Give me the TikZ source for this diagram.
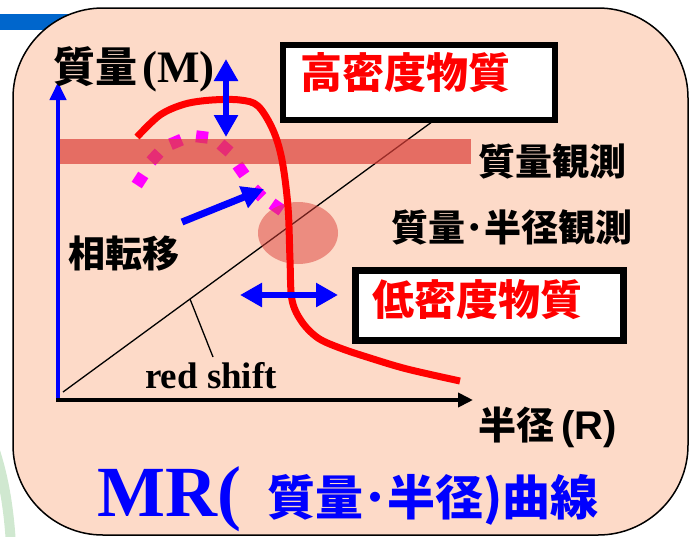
\documentclass[tikz,border=0pt]{standalone}
\usepackage{fontspec}
\setmainfont{Liberation Serif}
\newfontfamily\jp{Noto Sans CJK JP}
\newfontfamily\lsans{Liberation Sans}
\usetikzlibrary{arrows.meta}
\definecolor{peach}{RGB}{253,218,200}
\definecolor{bandred}{RGB}{220,64,57}
\definecolor{barblue}{RGB}{0,102,204}
\definecolor{paleg}{RGB}{208,232,208}
\definecolor{mag}{RGB}{255,0,255}
\newcommand\fsz[1]{\fontsize{#1}{#1}\selectfont}
\begin{document}
\begin{tikzpicture}[x=1pt,y=-1pt,
  jp/.style={inner sep=0pt, font=\jp\bfseries\fsz{#1}},
  tnr/.style={inner sep=0pt, font=\rmfamily\bfseries\fsz{#1}},
  boxA/.style={draw=black, fill=white, inner sep=0pt},
  bigblue/.style={draw=blue, line width=6pt, {Triangle[width=23pt,length=22pt]}-{Triangle[width=23pt,length=22pt]}},
  dot/.style={fill=mag}
]
\useasboundingbox (0,0) rectangle (690,536);
% decorations behind the panel
\fill[barblue] (0,14) rectangle (120,30);
\draw[paleg, line width=10pt] (-6,448) .. controls (4,478) and (9,510) .. (11,545);
% panel
\draw[fill=peach, line width=1.5pt, rounded corners=90pt] (13,8) rectangle (688,535);
% magenta dotted arc (phase transition)
\foreach \x/\y/\a in {140/180/57, 155/157/47, 176/142/23, 202/137/-7, 225/148/-41, 241/170/-55, 258/193/-45, 277/207/-35}{
  \fill[mag, rotate around={\a:(\x,\y)}] (\x-6,\y-6) rectangle (\x+6,\y+6);
}
% diagonal line and leader
\coordinate (d0) at (63,392);
\coordinate (d1) at (440,116);
\draw[line width=1.3pt] (d0) -- (d1);
\coordinate (l0) at (190,299);
\coordinate (l1) at (213,357);
\draw[line width=1.3pt] (l0) -- (l1);
% mass observation band
\fill[bandred, opacity=0.7] (58,139) rectangle (471,164);
% mass-radius observation ellipse
\fill[bandred, opacity=0.5] (298,233) ellipse [x radius=40, y radius=31];
% MR curve
\draw[red, line width=7pt] plot[smooth, tension=0.55] coordinates {(137,137) (160,115) (185,104) (212,100) (240,100) (258,106) (273,130) (282,160) (288,207) (290,260) (292,300) (302,322) (318,338) (340,348) (370,358) (407,369) (460,381)};
% axes
\draw[blue, line width=4pt, -{Triangle[width=16pt,length=18pt]}] (58,402) -- (58,82);
\draw[black, line width=4pt, -{Triangle[width=14pt,length=15pt]}] (56,400) -- (473,400);
% blue arrows
\coordinate (va) at (226,59);
\coordinate (vb) at (226,137);
\draw[bigblue] (va) -- (vb);
\coordinate (ha) at (240,295);
\coordinate (hb) at (338,295);
\draw[bigblue] (ha) -- (hb);
\coordinate (ta) at (182,222);
\coordinate (tb) at (264,189);
\draw[blue, line width=7pt, -{Triangle[width=22pt,length=22pt]}] (ta) -- (tb);
% boxes
\node[boxA, line width=6pt, minimum width=272pt, minimum height=75pt] (hbox) at (419,82.5) {};
\node[jp=42, text=red] (htxt) at (405,73) {高密度物質};
\node[boxA, line width=7pt, minimum width=268pt, minimum height=70pt] (lbox) at (489.5,305.5) {};
\node[jp=42, text=red] (ltxt) at (477,300) {低密度物質};
% labels
\node[jp=42, anchor=west] (mlab) at (53,69) {質量\hspace{5pt}{\rmfamily\bfseries\fsz{45}(M)}};
\node[jp=37] (obs1) at (552,161) {質量観測};
\node[jp=37] (obs2) at (512,227) {質量･半径観測};
\node[jp=37] (pt) at (124,254) {相転移};
\node[tnr=37] (rs) at (211,376) {red shift};
\node[jp=38, anchor=west] (rlab) at (478,427) {半径\hspace{7pt}{\lsans\bfseries\fsz{40}(R)}};
\node[tnr=72, text=blue, anchor=base west] (mr) at (97,516) {MR(};
\node[jp=48, text=blue, anchor=west] (mrj) at (267,500) {質量･半径)曲線};
\end{tikzpicture}
\end{document}
